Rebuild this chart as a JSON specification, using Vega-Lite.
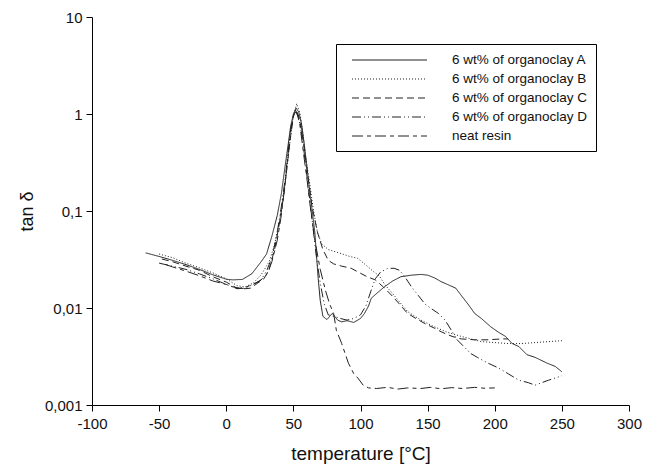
{
  "$schema": "https://vega.github.io/schema/vega-lite/v6.json",
  "autosize": "none",
  "width": 537,
  "height": 388,
  "padding": {"left": 92, "top": 17, "right": 26, "bottom": 67},
  "background": "white",
  "config": {
    "view": {"stroke": null},
    "font": "Liberation Sans",
    "axis": {
      "grid": false,
      "domainColor": "#000",
      "tickColor": "#000",
      "tickSize": 6,
      "labelFontSize": 15,
      "labelColor": "#111",
      "titleFontSize": 18,
      "titleFontWeight": "normal",
      "titleColor": "#111"
    }
  },
  "datasets": {
    "curves": [
      {"s": "6 wt% of organoclay A", "t": -60, "v": 0.037},
      {"s": "6 wt% of organoclay A", "t": -50, "v": 0.034},
      {"s": "6 wt% of organoclay A", "t": -40, "v": 0.031},
      {"s": "6 wt% of organoclay A", "t": -30, "v": 0.028},
      {"s": "6 wt% of organoclay A", "t": -20, "v": 0.025},
      {"s": "6 wt% of organoclay A", "t": -10, "v": 0.022},
      {"s": "6 wt% of organoclay A", "t": 0, "v": 0.0198},
      {"s": "6 wt% of organoclay A", "t": 5, "v": 0.0195},
      {"s": "6 wt% of organoclay A", "t": 12, "v": 0.0197},
      {"s": "6 wt% of organoclay A", "t": 19, "v": 0.0225},
      {"s": "6 wt% of organoclay A", "t": 26, "v": 0.030},
      {"s": "6 wt% of organoclay A", "t": 30, "v": 0.036},
      {"s": "6 wt% of organoclay A", "t": 34, "v": 0.055},
      {"s": "6 wt% of organoclay A", "t": 38, "v": 0.09},
      {"s": "6 wt% of organoclay A", "t": 41, "v": 0.15},
      {"s": "6 wt% of organoclay A", "t": 44, "v": 0.30},
      {"s": "6 wt% of organoclay A", "t": 46, "v": 0.47},
      {"s": "6 wt% of organoclay A", "t": 48, "v": 0.75},
      {"s": "6 wt% of organoclay A", "t": 50, "v": 1.0},
      {"s": "6 wt% of organoclay A", "t": 52, "v": 1.15},
      {"s": "6 wt% of organoclay A", "t": 54, "v": 1.05},
      {"s": "6 wt% of organoclay A", "t": 56, "v": 0.8},
      {"s": "6 wt% of organoclay A", "t": 58, "v": 0.5},
      {"s": "6 wt% of organoclay A", "t": 61, "v": 0.22},
      {"s": "6 wt% of organoclay A", "t": 64, "v": 0.1},
      {"s": "6 wt% of organoclay A", "t": 66, "v": 0.06},
      {"s": "6 wt% of organoclay A", "t": 68.5, "v": 0.02},
      {"s": "6 wt% of organoclay A", "t": 70, "v": 0.012},
      {"s": "6 wt% of organoclay A", "t": 72, "v": 0.0082},
      {"s": "6 wt% of organoclay A", "t": 75, "v": 0.0076},
      {"s": "6 wt% of organoclay A", "t": 79, "v": 0.0088},
      {"s": "6 wt% of organoclay A", "t": 83, "v": 0.0075},
      {"s": "6 wt% of organoclay A", "t": 86, "v": 0.0072},
      {"s": "6 wt% of organoclay A", "t": 90, "v": 0.0074},
      {"s": "6 wt% of organoclay A", "t": 95, "v": 0.0071},
      {"s": "6 wt% of organoclay A", "t": 100, "v": 0.0078},
      {"s": "6 wt% of organoclay A", "t": 103, "v": 0.0088},
      {"s": "6 wt% of organoclay A", "t": 106, "v": 0.0105},
      {"s": "6 wt% of organoclay A", "t": 108, "v": 0.0126},
      {"s": "6 wt% of organoclay A", "t": 113, "v": 0.0145},
      {"s": "6 wt% of organoclay A", "t": 118, "v": 0.0166},
      {"s": "6 wt% of organoclay A", "t": 124, "v": 0.019},
      {"s": "6 wt% of organoclay A", "t": 130, "v": 0.021},
      {"s": "6 wt% of organoclay A", "t": 138, "v": 0.0218},
      {"s": "6 wt% of organoclay A", "t": 145, "v": 0.0222},
      {"s": "6 wt% of organoclay A", "t": 150, "v": 0.0218},
      {"s": "6 wt% of organoclay A", "t": 155, "v": 0.0205},
      {"s": "6 wt% of organoclay A", "t": 160, "v": 0.0187},
      {"s": "6 wt% of organoclay A", "t": 166, "v": 0.0172},
      {"s": "6 wt% of organoclay A", "t": 171, "v": 0.016},
      {"s": "6 wt% of organoclay A", "t": 175, "v": 0.0135},
      {"s": "6 wt% of organoclay A", "t": 180, "v": 0.011},
      {"s": "6 wt% of organoclay A", "t": 185, "v": 0.0088},
      {"s": "6 wt% of organoclay A", "t": 190, "v": 0.0078},
      {"s": "6 wt% of organoclay A", "t": 197, "v": 0.0064},
      {"s": "6 wt% of organoclay A", "t": 203, "v": 0.0056},
      {"s": "6 wt% of organoclay A", "t": 208, "v": 0.0051},
      {"s": "6 wt% of organoclay A", "t": 213, "v": 0.0043},
      {"s": "6 wt% of organoclay A", "t": 218, "v": 0.0040},
      {"s": "6 wt% of organoclay A", "t": 224, "v": 0.0033},
      {"s": "6 wt% of organoclay A", "t": 230, "v": 0.0031},
      {"s": "6 wt% of organoclay A", "t": 239, "v": 0.0027},
      {"s": "6 wt% of organoclay A", "t": 245, "v": 0.0025},
      {"s": "6 wt% of organoclay A", "t": 250, "v": 0.0022},

      {"s": "6 wt% of organoclay B", "t": -50, "v": 0.036},
      {"s": "6 wt% of organoclay B", "t": -40, "v": 0.033},
      {"s": "6 wt% of organoclay B", "t": -30, "v": 0.029},
      {"s": "6 wt% of organoclay B", "t": -20, "v": 0.026},
      {"s": "6 wt% of organoclay B", "t": -10, "v": 0.023},
      {"s": "6 wt% of organoclay B", "t": 0, "v": 0.020},
      {"s": "6 wt% of organoclay B", "t": 8, "v": 0.017},
      {"s": "6 wt% of organoclay B", "t": 14, "v": 0.0165},
      {"s": "6 wt% of organoclay B", "t": 20, "v": 0.018},
      {"s": "6 wt% of organoclay B", "t": 26, "v": 0.022},
      {"s": "6 wt% of organoclay B", "t": 32, "v": 0.030},
      {"s": "6 wt% of organoclay B", "t": 36, "v": 0.045},
      {"s": "6 wt% of organoclay B", "t": 40, "v": 0.085},
      {"s": "6 wt% of organoclay B", "t": 43, "v": 0.16},
      {"s": "6 wt% of organoclay B", "t": 46, "v": 0.35},
      {"s": "6 wt% of organoclay B", "t": 48, "v": 0.6},
      {"s": "6 wt% of organoclay B", "t": 50, "v": 0.95},
      {"s": "6 wt% of organoclay B", "t": 52.5, "v": 1.28},
      {"s": "6 wt% of organoclay B", "t": 55, "v": 1.0},
      {"s": "6 wt% of organoclay B", "t": 57, "v": 0.65},
      {"s": "6 wt% of organoclay B", "t": 59, "v": 0.38},
      {"s": "6 wt% of organoclay B", "t": 62, "v": 0.2},
      {"s": "6 wt% of organoclay B", "t": 65, "v": 0.1},
      {"s": "6 wt% of organoclay B", "t": 68, "v": 0.06},
      {"s": "6 wt% of organoclay B", "t": 71, "v": 0.046},
      {"s": "6 wt% of organoclay B", "t": 76, "v": 0.040},
      {"s": "6 wt% of organoclay B", "t": 84, "v": 0.037},
      {"s": "6 wt% of organoclay B", "t": 92, "v": 0.034},
      {"s": "6 wt% of organoclay B", "t": 98, "v": 0.0325},
      {"s": "6 wt% of organoclay B", "t": 105, "v": 0.027},
      {"s": "6 wt% of organoclay B", "t": 110, "v": 0.0235},
      {"s": "6 wt% of organoclay B", "t": 114, "v": 0.0215},
      {"s": "6 wt% of organoclay B", "t": 118, "v": 0.0175},
      {"s": "6 wt% of organoclay B", "t": 125, "v": 0.0135},
      {"s": "6 wt% of organoclay B", "t": 135, "v": 0.0092},
      {"s": "6 wt% of organoclay B", "t": 145, "v": 0.0075},
      {"s": "6 wt% of organoclay B", "t": 155, "v": 0.0064},
      {"s": "6 wt% of organoclay B", "t": 165, "v": 0.0056},
      {"s": "6 wt% of organoclay B", "t": 175, "v": 0.0051},
      {"s": "6 wt% of organoclay B", "t": 190, "v": 0.0045},
      {"s": "6 wt% of organoclay B", "t": 200, "v": 0.0044},
      {"s": "6 wt% of organoclay B", "t": 210, "v": 0.0043},
      {"s": "6 wt% of organoclay B", "t": 220, "v": 0.0043},
      {"s": "6 wt% of organoclay B", "t": 230, "v": 0.0044},
      {"s": "6 wt% of organoclay B", "t": 240, "v": 0.0045},
      {"s": "6 wt% of organoclay B", "t": 250, "v": 0.0046},

      {"s": "6 wt% of organoclay C", "t": -48, "v": 0.032},
      {"s": "6 wt% of organoclay C", "t": -40, "v": 0.030},
      {"s": "6 wt% of organoclay C", "t": -30, "v": 0.027},
      {"s": "6 wt% of organoclay C", "t": -20, "v": 0.0245},
      {"s": "6 wt% of organoclay C", "t": -10, "v": 0.021},
      {"s": "6 wt% of organoclay C", "t": 0, "v": 0.0185},
      {"s": "6 wt% of organoclay C", "t": 8, "v": 0.016},
      {"s": "6 wt% of organoclay C", "t": 14, "v": 0.0158},
      {"s": "6 wt% of organoclay C", "t": 18, "v": 0.016},
      {"s": "6 wt% of organoclay C", "t": 22, "v": 0.0175},
      {"s": "6 wt% of organoclay C", "t": 28, "v": 0.020},
      {"s": "6 wt% of organoclay C", "t": 32, "v": 0.025},
      {"s": "6 wt% of organoclay C", "t": 36, "v": 0.04},
      {"s": "6 wt% of organoclay C", "t": 40, "v": 0.08},
      {"s": "6 wt% of organoclay C", "t": 43, "v": 0.15},
      {"s": "6 wt% of organoclay C", "t": 46, "v": 0.35},
      {"s": "6 wt% of organoclay C", "t": 48, "v": 0.6},
      {"s": "6 wt% of organoclay C", "t": 50, "v": 0.95},
      {"s": "6 wt% of organoclay C", "t": 52, "v": 1.1},
      {"s": "6 wt% of organoclay C", "t": 54, "v": 0.95},
      {"s": "6 wt% of organoclay C", "t": 56, "v": 0.7},
      {"s": "6 wt% of organoclay C", "t": 58, "v": 0.45},
      {"s": "6 wt% of organoclay C", "t": 61, "v": 0.22},
      {"s": "6 wt% of organoclay C", "t": 64, "v": 0.11},
      {"s": "6 wt% of organoclay C", "t": 68, "v": 0.06},
      {"s": "6 wt% of organoclay C", "t": 72, "v": 0.04},
      {"s": "6 wt% of organoclay C", "t": 76, "v": 0.031},
      {"s": "6 wt% of organoclay C", "t": 80, "v": 0.0285},
      {"s": "6 wt% of organoclay C", "t": 86, "v": 0.027},
      {"s": "6 wt% of organoclay C", "t": 93, "v": 0.0257},
      {"s": "6 wt% of organoclay C", "t": 100, "v": 0.0228},
      {"s": "6 wt% of organoclay C", "t": 105, "v": 0.021},
      {"s": "6 wt% of organoclay C", "t": 111, "v": 0.0195},
      {"s": "6 wt% of organoclay C", "t": 117, "v": 0.0165},
      {"s": "6 wt% of organoclay C", "t": 123, "v": 0.0136},
      {"s": "6 wt% of organoclay C", "t": 129, "v": 0.011},
      {"s": "6 wt% of organoclay C", "t": 135, "v": 0.0088},
      {"s": "6 wt% of organoclay C", "t": 142, "v": 0.0077},
      {"s": "6 wt% of organoclay C", "t": 148, "v": 0.0069},
      {"s": "6 wt% of organoclay C", "t": 155, "v": 0.0062},
      {"s": "6 wt% of organoclay C", "t": 160, "v": 0.0057},
      {"s": "6 wt% of organoclay C", "t": 165, "v": 0.0053},
      {"s": "6 wt% of organoclay C", "t": 170, "v": 0.0050},
      {"s": "6 wt% of organoclay C", "t": 175, "v": 0.0048},
      {"s": "6 wt% of organoclay C", "t": 185, "v": 0.0047},
      {"s": "6 wt% of organoclay C", "t": 195, "v": 0.0047},
      {"s": "6 wt% of organoclay C", "t": 205, "v": 0.0048},
      {"s": "6 wt% of organoclay C", "t": 210, "v": 0.0048},

      {"s": "6 wt% of organoclay D", "t": -50, "v": 0.029},
      {"s": "6 wt% of organoclay D", "t": -40, "v": 0.027},
      {"s": "6 wt% of organoclay D", "t": -30, "v": 0.025},
      {"s": "6 wt% of organoclay D", "t": -20, "v": 0.0225},
      {"s": "6 wt% of organoclay D", "t": -10, "v": 0.020},
      {"s": "6 wt% of organoclay D", "t": 0, "v": 0.0175},
      {"s": "6 wt% of organoclay D", "t": 8, "v": 0.0158},
      {"s": "6 wt% of organoclay D", "t": 14, "v": 0.016},
      {"s": "6 wt% of organoclay D", "t": 20, "v": 0.0175},
      {"s": "6 wt% of organoclay D", "t": 26, "v": 0.0195},
      {"s": "6 wt% of organoclay D", "t": 30, "v": 0.024},
      {"s": "6 wt% of organoclay D", "t": 34, "v": 0.033},
      {"s": "6 wt% of organoclay D", "t": 38, "v": 0.06},
      {"s": "6 wt% of organoclay D", "t": 41, "v": 0.11},
      {"s": "6 wt% of organoclay D", "t": 44, "v": 0.22},
      {"s": "6 wt% of organoclay D", "t": 46, "v": 0.4},
      {"s": "6 wt% of organoclay D", "t": 48, "v": 0.7},
      {"s": "6 wt% of organoclay D", "t": 50, "v": 0.95},
      {"s": "6 wt% of organoclay D", "t": 52, "v": 1.05},
      {"s": "6 wt% of organoclay D", "t": 54, "v": 0.9},
      {"s": "6 wt% of organoclay D", "t": 56, "v": 0.65},
      {"s": "6 wt% of organoclay D", "t": 58, "v": 0.4},
      {"s": "6 wt% of organoclay D", "t": 61, "v": 0.18},
      {"s": "6 wt% of organoclay D", "t": 64, "v": 0.08},
      {"s": "6 wt% of organoclay D", "t": 67, "v": 0.035},
      {"s": "6 wt% of organoclay D", "t": 70, "v": 0.018},
      {"s": "6 wt% of organoclay D", "t": 73, "v": 0.011},
      {"s": "6 wt% of organoclay D", "t": 76, "v": 0.0085},
      {"s": "6 wt% of organoclay D", "t": 80, "v": 0.0082},
      {"s": "6 wt% of organoclay D", "t": 85, "v": 0.0078},
      {"s": "6 wt% of organoclay D", "t": 90, "v": 0.0075},
      {"s": "6 wt% of organoclay D", "t": 95, "v": 0.0078},
      {"s": "6 wt% of organoclay D", "t": 100, "v": 0.0085},
      {"s": "6 wt% of organoclay D", "t": 104, "v": 0.0105},
      {"s": "6 wt% of organoclay D", "t": 108, "v": 0.0153},
      {"s": "6 wt% of organoclay D", "t": 111, "v": 0.02},
      {"s": "6 wt% of organoclay D", "t": 115, "v": 0.0235},
      {"s": "6 wt% of organoclay D", "t": 120, "v": 0.0255},
      {"s": "6 wt% of organoclay D", "t": 125, "v": 0.0257},
      {"s": "6 wt% of organoclay D", "t": 129, "v": 0.0245},
      {"s": "6 wt% of organoclay D", "t": 133, "v": 0.021},
      {"s": "6 wt% of organoclay D", "t": 138, "v": 0.0165},
      {"s": "6 wt% of organoclay D", "t": 143, "v": 0.0135},
      {"s": "6 wt% of organoclay D", "t": 148, "v": 0.011},
      {"s": "6 wt% of organoclay D", "t": 153, "v": 0.0098},
      {"s": "6 wt% of organoclay D", "t": 158, "v": 0.0088},
      {"s": "6 wt% of organoclay D", "t": 163, "v": 0.0075},
      {"s": "6 wt% of organoclay D", "t": 168, "v": 0.0058},
      {"s": "6 wt% of organoclay D", "t": 172, "v": 0.0047},
      {"s": "6 wt% of organoclay D", "t": 177, "v": 0.0040},
      {"s": "6 wt% of organoclay D", "t": 182, "v": 0.0034},
      {"s": "6 wt% of organoclay D", "t": 187, "v": 0.0031},
      {"s": "6 wt% of organoclay D", "t": 195, "v": 0.0027},
      {"s": "6 wt% of organoclay D", "t": 203, "v": 0.0024},
      {"s": "6 wt% of organoclay D", "t": 210, "v": 0.0021},
      {"s": "6 wt% of organoclay D", "t": 218, "v": 0.0018},
      {"s": "6 wt% of organoclay D", "t": 225, "v": 0.0017},
      {"s": "6 wt% of organoclay D", "t": 230, "v": 0.0016},
      {"s": "6 wt% of organoclay D", "t": 235, "v": 0.0017},
      {"s": "6 wt% of organoclay D", "t": 240, "v": 0.0018},
      {"s": "6 wt% of organoclay D", "t": 245, "v": 0.0019},
      {"s": "6 wt% of organoclay D", "t": 250, "v": 0.0020},

      {"s": "neat resin", "t": -45, "v": 0.028},
      {"s": "neat resin", "t": -40, "v": 0.0265},
      {"s": "neat resin", "t": -30, "v": 0.024},
      {"s": "neat resin", "t": -20, "v": 0.0215},
      {"s": "neat resin", "t": -10, "v": 0.019},
      {"s": "neat resin", "t": 0, "v": 0.0175},
      {"s": "neat resin", "t": 5, "v": 0.0165},
      {"s": "neat resin", "t": 10, "v": 0.016},
      {"s": "neat resin", "t": 15, "v": 0.0165},
      {"s": "neat resin", "t": 20, "v": 0.0175},
      {"s": "neat resin", "t": 25, "v": 0.019},
      {"s": "neat resin", "t": 30, "v": 0.022},
      {"s": "neat resin", "t": 34, "v": 0.03},
      {"s": "neat resin", "t": 38, "v": 0.05},
      {"s": "neat resin", "t": 41, "v": 0.09},
      {"s": "neat resin", "t": 44, "v": 0.2},
      {"s": "neat resin", "t": 46, "v": 0.38},
      {"s": "neat resin", "t": 48, "v": 0.65},
      {"s": "neat resin", "t": 50, "v": 0.95},
      {"s": "neat resin", "t": 51.5, "v": 1.1},
      {"s": "neat resin", "t": 53, "v": 1.0},
      {"s": "neat resin", "t": 55, "v": 0.75},
      {"s": "neat resin", "t": 57, "v": 0.45},
      {"s": "neat resin", "t": 60, "v": 0.22},
      {"s": "neat resin", "t": 63, "v": 0.1},
      {"s": "neat resin", "t": 66, "v": 0.05},
      {"s": "neat resin", "t": 70, "v": 0.025},
      {"s": "neat resin", "t": 74, "v": 0.015},
      {"s": "neat resin", "t": 77, "v": 0.011},
      {"s": "neat resin", "t": 80, "v": 0.0088},
      {"s": "neat resin", "t": 82, "v": 0.0059},
      {"s": "neat resin", "t": 86, "v": 0.0043},
      {"s": "neat resin", "t": 91, "v": 0.0027},
      {"s": "neat resin", "t": 95, "v": 0.0021},
      {"s": "neat resin", "t": 98, "v": 0.0019},
      {"s": "neat resin", "t": 102, "v": 0.0016},
      {"s": "neat resin", "t": 106, "v": 0.0015},
      {"s": "neat resin", "t": 112, "v": 0.00148},
      {"s": "neat resin", "t": 120, "v": 0.00152},
      {"s": "neat resin", "t": 128, "v": 0.00146},
      {"s": "neat resin", "t": 135, "v": 0.0015},
      {"s": "neat resin", "t": 145, "v": 0.00148},
      {"s": "neat resin", "t": 152, "v": 0.00152},
      {"s": "neat resin", "t": 160, "v": 0.00147},
      {"s": "neat resin", "t": 168, "v": 0.00151},
      {"s": "neat resin", "t": 176, "v": 0.00148},
      {"s": "neat resin", "t": 185, "v": 0.00152},
      {"s": "neat resin", "t": 192, "v": 0.00149},
      {"s": "neat resin", "t": 200, "v": 0.0015}
    ]
  },
  "data": {"name": "curves"},
  "mark": {"type": "line", "color": "#222", "strokeWidth": 1, "clip": true},
  "encoding": {
    "x": {
      "field": "t",
      "type": "quantitative",
      "title": "temperature [°C]",
      "scale": {"domain": [-100, 300], "nice": false, "zero": false},
      "axis": {
        "values": [-100, -50, 0, 50, 100, 150, 200, 250, 300],
        "labelExpr": "toString(datum.value)",
        "labelFlush": false,
        "labelPadding": 5,
        "titleFontSize": 19,
        "titlePadding": 13
      }
    },
    "y": {
      "field": "v",
      "type": "quantitative",
      "title": "tan δ",
      "scale": {"type": "log", "domain": [0.001, 10], "nice": false},
      "axis": {
        "values": [0.001, 0.01, 0.1, 1, 10],
        "labelExpr": "replace(toString(datum.value), '.', ',')",
        "labelFlush": false,
        "labelPadding": 4,
        "titlePadding": 8
      }
    },
    "strokeDash": {
      "field": "s",
      "type": "nominal",
      "scale": {
        "domain": ["6 wt% of organoclay A", "6 wt% of organoclay B", "6 wt% of organoclay C", "6 wt% of organoclay D", "neat resin"],
        "range": [[1, 0], [1, 2], [7, 4], [9, 3, 1, 3, 1, 3], [11, 4, 4, 4]]
      },
      "legend": {
        "title": null,
        "orient": "none",
        "legendX": 244,
        "legendY": 27,
        "strokeColor": "#000",
        "fillColor": "white",
        "padding": 8,
        "symbolType": "M0,0H10",
        "symbolSize": 225,
        "symbolStrokeWidth": 1,
        "symbolStrokeColor": "#222",
        "labelFontSize": 13.5,
        "labelColor": "#111",
        "labelOffset": 92,
        "labelLimit": 300,
        "rowPadding": 4,
        "encode": {
          "entries": {
            "update": {
              "width": {"value": 261},
              "height": {"value": 15},
              "fill": {"value": "white"},
              "fillOpacity": {"value": 0}
            }
          }
        }
      }
    }
  }
}
